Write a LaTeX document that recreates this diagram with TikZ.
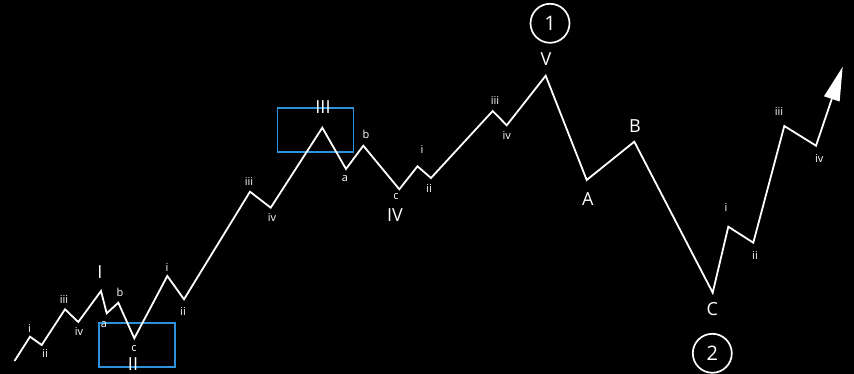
\documentclass[tikz,border=0pt]{standalone}
\usepackage{fontspec}
\setmainfont{Open Sans}
\usepackage{xcolor}
\usepackage{tikz}
\usetikzlibrary{arrows.meta}
\definecolor{boxblue}{RGB}{45, 145, 220}

\begin{document}
\begin{tikzpicture}[
  x=1pt, y=-1pt,
  wave/.style={draw=white, line width=1.8pt, line join=miter},
  minor/.style={text=white, font=\fontsize{11}{13}\selectfont, inner sep=0pt},
  major/.style={text=white, font=\fontsize{18}{20}\selectfont, inner sep=0pt},
  degree/.style={circle, draw=white, line width=1.7pt, minimum size=39pt, inner sep=0pt, text=white, font=\fontsize{20}{22}\selectfont},
  focus/.style={draw=boxblue, line width=1.8pt, minimum width=76pt, minimum height=44pt, inner sep=0pt}
]
\fill[black] (0,0) rectangle (854,374);
\useasboundingbox (0,0) rectangle (854,374);

% wave vertices
\coordinate (w0) at (14.5,361);
\coordinate (w1i) at (30,336.7);
\coordinate (w1ii) at (41.7,345);
\coordinate (w1iii) at (65,309.3);
\coordinate (w1iv) at (78.3,322);
\coordinate (wI) at (101,291);
\coordinate (wIIa) at (106.7,313.3);
\coordinate (wIIb) at (118.3,302.7);
\coordinate (wII) at (134.3,338.3);
\coordinate (w3i) at (167.3,276);
\coordinate (w3ii) at (184,299.3);
\coordinate (w3iii) at (250,191.7);
\coordinate (w3iv) at (270.7,207.7);
\coordinate (wIII) at (322.3,127.7);
\coordinate (wIVa) at (346,169);
\coordinate (wIVb) at (363.3,145.7);
\coordinate (wIV) at (399.3,189.3);
\coordinate (w5i) at (417.5,166.3);
\coordinate (w5ii) at (431,178);
\coordinate (w5iii) at (492.7,111);
\coordinate (w5iv) at (506.7,125.3);
\coordinate (wV) at (545.7,75.7);
\coordinate (wA) at (586.7,180);
\coordinate (wB) at (634.3,141.7);
\coordinate (wC) at (712.7,292.7);
\coordinate (n1i) at (728.3,226.7);
\coordinate (n1ii) at (753.3,242.7);
\coordinate (n1iii) at (784.3,126);
\coordinate (n1iv) at (816,145.7);
\coordinate (ntip) at (842.7,66.7);

% boxes round waves II and III
\node[focus] (boxII) at (137.3,344.7) {};
\node[focus] (boxIII) at (315.5,129.7) {};

\draw[wave, -{Triangle[length=34pt, width=16pt, fill=white]}]
  (w0) -- (w1i) -- (w1ii) -- (w1iii) -- (w1iv) -- (wI)
  -- (wIIa) -- (wIIb) -- (wII)
  -- (w3i) -- (w3ii) -- (w3iii) -- (w3iv) -- (wIII)
  -- (wIVa) -- (wIVb) -- (wIV)
  -- (w5i) -- (w5ii) -- (w5iii) -- (w5iv) -- (wV)
  -- (wA) -- (wB) -- (wC)
  -- (n1i) -- (n1ii) -- (n1iii) -- (n1iv) -- (ntip);

% minor labels
\node[minor] (t1i) at (29.5,328) {i};
\node[minor] (t1ii) at (45,353) {ii};
\node[minor] (t1iii) at (64,299) {iii};
\node[minor] (t1iv) at (79,331) {iv};
\node[minor] (tIIa) at (104,325) {a};
\node[minor] (tIIb) at (120,292) {b};
\node[minor] (tIIc) at (134,349) {c};
\node[minor] (t3i) at (167,267) {i};
\node[minor] (t3ii) at (183,311) {ii};
\node[minor] (t3iii) at (249,181) {iii};
\node[minor] (t3iv) at (272,217) {iv};
\node[minor] (tIVa) at (345,179) {a};
\node[minor] (tIVb) at (366,134) {b};
\node[minor] (tIVc) at (396,197) {c};
\node[minor] (t5i) at (422,149.5) {i};
\node[minor] (t5ii) at (429,188.5) {ii};
\node[minor] (t5iii) at (495,100) {iii};
\node[minor] (t5iv) at (506.7,135) {iv};
\node[minor] (n1ti) at (726,207) {i};
\node[minor] (n1tii) at (755,255) {ii};
\node[minor] (n1tiii) at (779,111) {iii};
\node[minor] (n1tiv) at (819.3,158.7) {iv};

% major labels
\node[major] (tI) at (100,272) {I};
\node[major] (tII) at (133,364.5) {II};
\node[major] (tIII) at (323,107) {III};
\node[major] (tIV) at (395,215) {IV};
\node[major] (tV) at (546,59) {V};
\node[major] (tA) at (587.7,199) {A};
\node[major] (tB) at (635,126) {B};
\node[major] (tC) at (712.3,309) {C};

% degree circles
\node[degree] (deg1) at (550,23.3) {1};
\node[degree] (deg2) at (712.3,353.3) {2};
\end{tikzpicture}
\end{document}
